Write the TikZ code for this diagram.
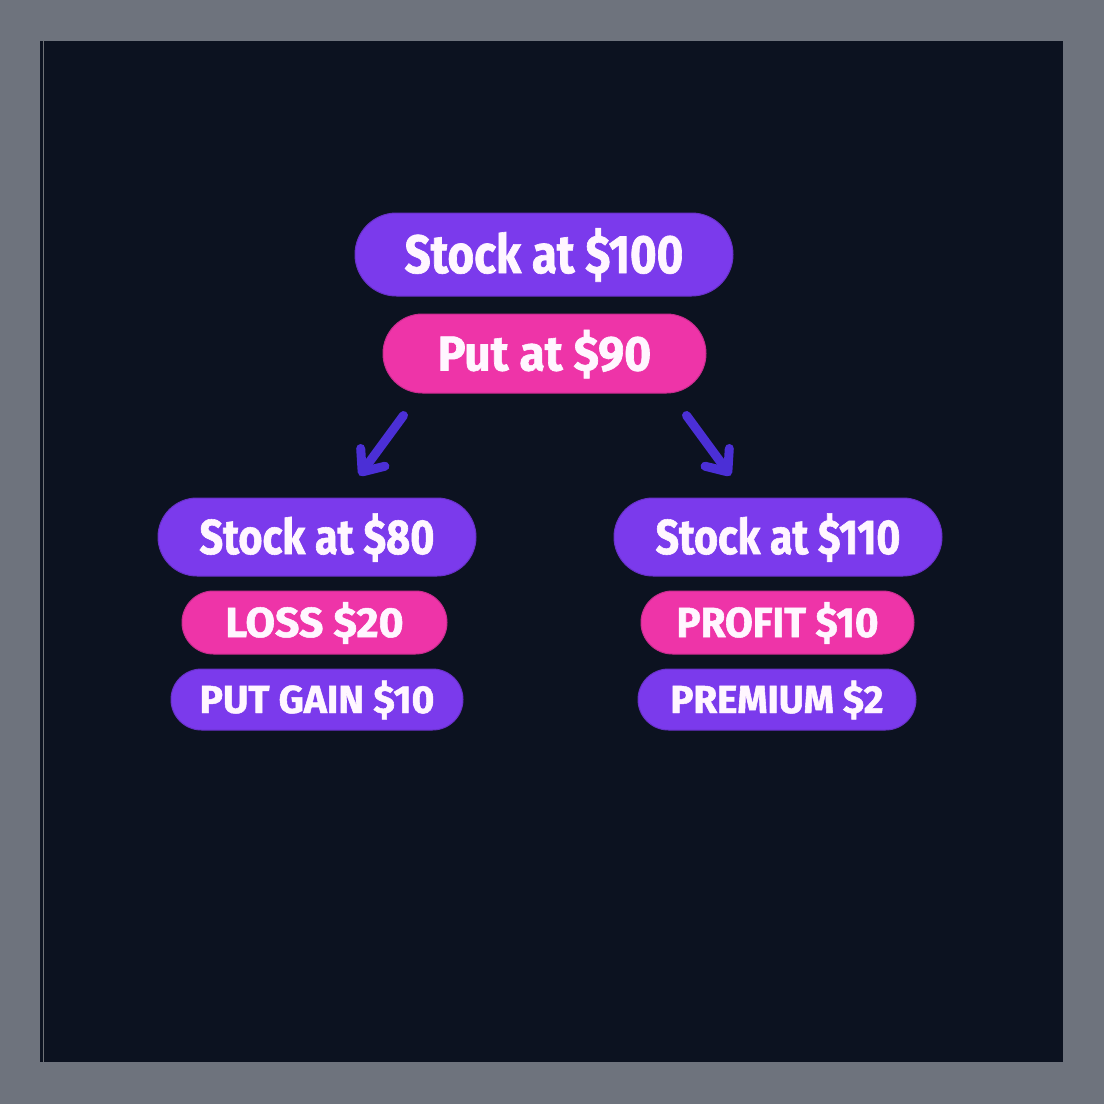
\documentclass[tikz,border=0pt]{standalone}
\usepackage{fontspec}
\usetikzlibrary{arrows.meta}
\newfontfamily\pf[FakeStretch=0.82, FakeBold=1.2]{Fira Sans}
\definecolor{outerbg}{HTML}{6E737D}
\definecolor{panelbg}{HTML}{0C1220}
\definecolor{pviolet}{HTML}{7B3AEC}
\definecolor{ppink}{HTML}{EE34A8}
\definecolor{parrow}{HTML}{4B2FD6}
\definecolor{ptext}{HTML}{FFF6FF}
\tikzset{
  pill/.style={rounded corners=#1, inner sep=0pt, text=ptext, align=center, text depth=0pt},
  vio/.style={fill=pviolet, draw=pviolet!85!black, line width=1pt},
  pnk/.style={fill=ppink, draw=ppink!85!black, line width=1pt},
  arr/.style={draw=parrow, line width=9pt, line cap=round, -{Straight Barb[length=18pt,width=30pt,round]}},
}
\newcommand{\fs}[1]{\pf\bfseries\fontsize{#1}{#1}\selectfont}
\newcommand{\sx}[2]{\scalebox{#1}[1]{#2}}
\begin{document}
\begin{tikzpicture}[x=1pt,y=-1pt]
\useasboundingbox (0,0) rectangle (1104,1104);
\fill[outerbg] (0,0) rectangle (1104,1104);
\fill[panelbg] (40,41) rectangle (1063,1062);
\draw[gray!60, line width=1.2pt, opacity=0.6] (43.5,41) -- (43.5,1062);
\node[pill=41.5pt, vio, minimum width=378pt, minimum height=83pt, text height=37pt, font=\fs{54}] (top) at (544,254.5) {\sx{1.03}{Stock at \$100}};
\node[pill=39.5pt, pnk, minimum width=323pt, minimum height=79pt, text height=34pt, font=\fs{49}] (put) at (544.5,353.5) {\sx{1.15}{Put at \$90}};
\node[pill=39pt, vio, minimum width=318pt, minimum height=78pt, text height=34pt, font=\fs{49}] (sl) at (317,537) {\sx{1.03}{Stock at \$80}};
\node[pill=31.5pt, pnk, minimum width=265pt, minimum height=63pt, text height=29pt, font=\fs{42}] (loss) at (314.5,622.5) {\sx{1.24}{LOSS \$20}};
\node[pill=30.5pt, vio, minimum width=292pt, minimum height=61pt, text height=27pt, font=\fs{39}] (pg) at (317,699.5) {\sx{1.22}{PUT GAIN \$10}};
\node[pill=39pt, vio, minimum width=328pt, minimum height=78pt, text height=34pt, font=\fs{49}] (sr) at (778,537) {\sx{1.02}{Stock at \$110}};
\node[pill=31.5pt, pnk, minimum width=273pt, minimum height=63pt, text height=29pt, font=\fs{42}] (prof) at (777.5,622.5) {\sx{1.17}{PROFIT \$10}};
\node[pill=30.5pt, vio, minimum width=278pt, minimum height=61pt, text height=27pt, font=\fs{39}] (prem) at (777,699.5) {\sx{1.2}{PREMIUM \$2}};
\coordinate (ls) at ([shift={(21,22)}]put.south west);
\coordinate (le) at ([shift={(202,-22)}]sl.north west);
\coordinate (rs) at ([shift={(-20,22)}]put.south east);
\coordinate (re) at ([shift={(-212,-22)}]sr.north east);
\draw[arr] (ls) -- (le);
\draw[arr] (rs) -- (re);
\end{tikzpicture}
\end{document}
